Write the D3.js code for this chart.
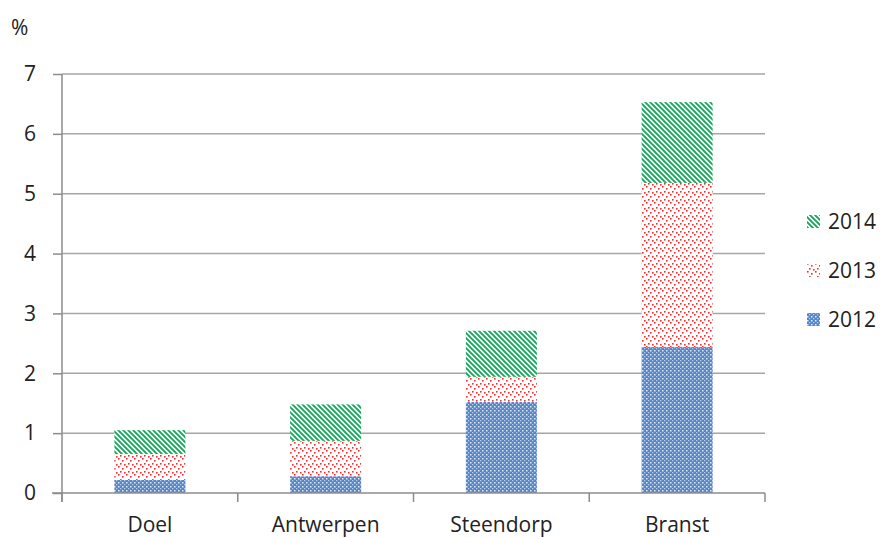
<!DOCTYPE html>
<html>
<head>
<meta charset="utf-8">
<script src="https://cdn.jsdelivr.net/npm/d3@7"></script>
<style>
  body { margin: 0; background: #fff; }
  text { font-family: "Open Sans", "Liberation Sans", sans-serif; fill: #222; }
</style>
</head>
<body>
<script>
const categories = ["Doel", "Antwerpen", "Steendorp", "Branst"]
const years = ["2012", "2013", "2014"]
const values2012 = [0.22, 0.28, 1.52, 2.44]
const values2013 = [0.43, 0.59, 0.42, 2.74]
const values2014 = [0.40, 0.61, 0.77, 1.35]
const yTicks = [0, 1, 2, 3, 4, 5, 6, 7]

const svgWidth = 885
const svgHeight = 538
const margin = { top: 74, right: 120, bottom: 45, left: 62 }
const chartWidth = 765 - margin.left
const chartHeight = 493 - margin.top

const svg = d3.select("body").append("svg")
    .attr("width", svgWidth)
    .attr("height", svgHeight)

// fill patterns
const defs = svg.append("defs")

const p2014 = defs.append("pattern")
    .attr("id", "p2014")
    .attr("patternUnits", "userSpaceOnUse")
    .attr("width", 5).attr("height", 5)
p2014.append("rect").attr("width", 5).attr("height", 5).attr("fill", "#fff")
p2014.append("path")
    .attr("d", "M0,0 L5,5 M-1,4 L1,6 M4,-1 L6,1")
    .attr("stroke", "#13a85a").attr("stroke-width", 1.9)

const p2013 = defs.append("pattern")
    .attr("id", "p2013")
    .attr("patternUnits", "userSpaceOnUse")
    .attr("width", 8).attr("height", 8)
p2013.append("rect").attr("width", 8).attr("height", 8).attr("fill", "#fff")
;[[0, 0], [4, 2], [2, 5], [6, 6]].forEach(([x, y]) => {
  p2013.append("rect").attr("x", x).attr("y", y)
    .attr("width", 1.6).attr("height", 1.6).attr("fill", "#ff2a2a")
})

const p2012 = defs.append("pattern")
    .attr("id", "p2012")
    .attr("patternUnits", "userSpaceOnUse")
    .attr("width", 4).attr("height", 4)
p2012.append("rect").attr("width", 4).attr("height", 4).attr("fill", "#5586c8")
p2012.append("rect").attr("x", 0).attr("y", 0).attr("width", 1.5).attr("height", 1.5).attr("fill", "#e4ecf7")
p2012.append("rect").attr("x", 2).attr("y", 2).attr("width", 1.3).attr("height", 1.3).attr("fill", "#b9cce8")

const fills = { "2012": "url(#p2012)", "2013": "url(#p2013)", "2014": "url(#p2014)" }

const chartG = svg.append("g")
    .attr("transform", `translate(${margin.left}, ${margin.top})`)

const y = d3.scaleLinear()
    .domain([0, 7])
    .range([chartHeight, 0])

const x = d3.scaleBand()
    .domain(categories)
    .range([0, chartWidth])
    .paddingInner(0)
    .paddingOuter(0)

// gridlines
chartG.append("g")
  .selectAll("line")
  .data(yTicks.slice(1))
  .join("line")
    .attr("x1", 0).attr("x2", chartWidth)
    .attr("y1", d => y(d)).attr("y2", d => y(d))
    .attr("stroke", "#a6a6a6").attr("stroke-width", 1.5)

// y axis
const yAxis = d3.axisLeft(y).tickValues(yTicks).tickFormat(d3.format("d")).tickSize(9).tickPadding(17)
const yG = chartG.append("g").call(yAxis)
yG.select(".domain").attr("stroke", "#8c8c8c").attr("stroke-width", 1.5)
    .attr("d", `M0,${chartHeight + 9}V0`)
yG.selectAll(".tick line").attr("stroke", "#8c8c8c").attr("stroke-width", 1.5)
yG.selectAll(".tick text").style("font-size", "21px").attr("fill", "#222")

// stacked bars
const rows = categories.map((c, i) => ({
  name: c, "2012": values2012[i], "2013": values2013[i], "2014": values2014[i]
}))
const series = d3.stack().keys(years)(rows)
const barWidth = 71

chartG.append("g")
  .selectAll("g")
  .data(series)
  .join("g")
    .attr("fill", d => fills[d.key])
  .selectAll("rect")
  .data(d => d)
  .join("rect")
    .attr("x", d => x(d.data.name) + (x.bandwidth() - barWidth) / 2)
    .attr("y", d => y(d[1]))
    .attr("height", d => y(d[0]) - y(d[1]))
    .attr("width", barWidth)

// x axis
const xG = chartG.append("g")
    .attr("transform", `translate(0, ${chartHeight})`)
xG.append("line")
    .attr("x1", -10).attr("x2", chartWidth)
    .attr("stroke", "#8c8c8c").attr("stroke-width", 1.5)
xG.selectAll(".xtick")
  .data(categories.map(c => x(c)).concat([chartWidth]))
  .join("line")
    .attr("class", "xtick")
    .attr("x1", d => d).attr("x2", d => d)
    .attr("y1", 0).attr("y2", 9)
    .attr("stroke", "#8c8c8c").attr("stroke-width", 1.5)
xG.selectAll("text")
  .data(categories)
  .join("text")
    .attr("x", d => x(d) + x.bandwidth() / 2)
    .attr("y", 39)
    .attr("text-anchor", "middle")
    .style("font-size", "21px")
    .text(d => d)

// unit label
svg.append("text")
    .attr("x", 11).attr("y", 35)
    .style("font-size", "21px")
    .text("%")

// legend
const legend = svg.append("g")
  .selectAll("g")
  .data(years.slice().reverse())
  .join("g")
    .attr("transform", (d, i) => `translate(807, ${222 + i * 49})`)
legend.append("rect")
    .attr("x", 0).attr("y", -7)
    .attr("width", 13).attr("height", 13)
    .attr("fill", d => fills[d])
legend.append("text")
    .attr("x", 21).attr("y", 7)
    .style("font-size", "21px")
    .text(d => d)
</script>
</body>
</html>
